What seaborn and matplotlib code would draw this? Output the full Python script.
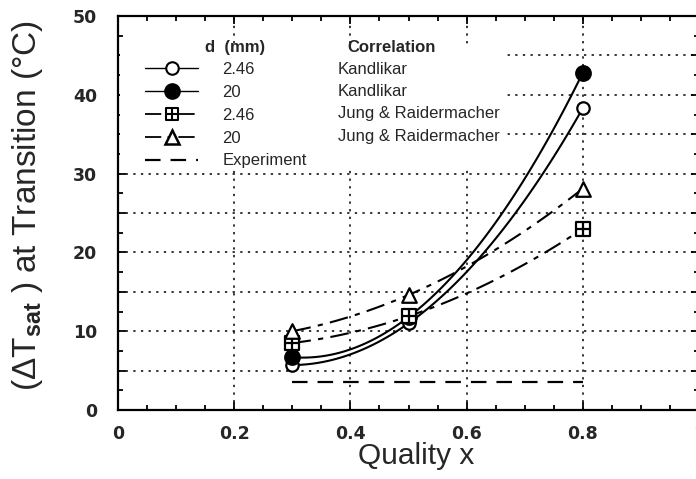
import numpy as np
import pandas as pd
import matplotlib
matplotlib.use("Agg")
import matplotlib.pyplot as plt
import seaborn as sns
from matplotlib.path import Path
from matplotlib.lines import Line2D
from matplotlib.patches import Rectangle
from matplotlib.ticker import MultipleLocator, FuncFormatter

# ---- data ----
quality = [0.3, 0.5, 0.8]
kand_246 = [5.7, 11.0, 38.3]
kand_20 = [6.7, 11.8, 42.8]
jung_246 = [8.5, 11.9, 23.0]
jung_20 = [10.0, 14.6, 28.1]
exp_x = [0.3, 0.8]
exp_y = [3.6, 3.6]

d_labels = ["2.46", "20", "2.46", "20", "Experiment"]
corr_labels = ["Kandlikar", "Kandlikar", "Jung & Raidermacher", "Jung & Raidermacher"]
x_ticks = [0, 0.2, 0.4, 0.6, 0.8, 1.0]
y_ticks = [0, 10, 20, 30, 40, 50]

sns.set_style("ticks")
plt.rcParams["font.family"] = ["Liberation Sans", "DejaVu Sans"]
plt.rcParams["mathtext.fontset"] = "custom"
plt.rcParams["mathtext.rm"] = "Liberation Sans"
plt.rcParams["mathtext.bf"] = "Liberation Sans:bold"
plt.rcParams["mathtext.it"] = "Liberation Sans:italic"

# square with a cross inside
sq_plus = Path(
    [(-1, -1), (1, -1), (1, 1), (-1, 1), (-1, -1), (0, -1), (0, 1), (-1, 0), (1, 0)],
    [Path.MOVETO, Path.LINETO, Path.LINETO, Path.LINETO, Path.CLOSEPOLY,
     Path.MOVETO, Path.LINETO, Path.MOVETO, Path.LINETO],
)

fig = plt.figure(figsize=(6.96, 4.79), dpi=100)
ax = fig.add_axes([118 / 696, (479 - 410) / 479, 581 / 696, 394 / 479])

dashdot = (0, (9, 3.5, 2.5, 3.5))
line_lw = 1.5

series = [
    (kand_246, "o", "white", 80, "-"),
    (kand_20, "o", "black", 110, "-"),
    (jung_246, sq_plus, "white", 90, dashdot),
    (jung_20, "^", "white", 110, dashdot),
]
for yv, mk, fc, s, ls in series:
    df = pd.DataFrame({"x": quality, "y": yv})
    sns.regplot(data=df, x="x", y="y", order=2, ci=None, truncate=True,
                marker=mk, color="black", ax=ax,
                scatter_kws=dict(facecolors=fc, edgecolors="black", s=s,
                                 linewidths=1.6, alpha=1, zorder=5),
                line_kws=dict(lw=line_lw, ls=ls, zorder=3))

exp_df = pd.DataFrame({"x": exp_x, "y": exp_y})
sns.lineplot(data=exp_df, x="x", y="y", ax=ax, color="black", lw=1.6,
             linestyle=(0, (7, 4.5)), zorder=3)

ax.set_xlim(0, 1.0)
ax.set_ylim(0, 50)
ax.xaxis.set_major_locator(MultipleLocator(0.2))
ax.xaxis.set_minor_locator(MultipleLocator(0.05))
ax.yaxis.set_major_locator(MultipleLocator(5))
ax.yaxis.set_minor_locator(MultipleLocator(2.5))


def xfmt(v, pos):
    v = round(v, 2)
    if v == 0:
        return "0"
    if v == 1:
        return "1"
    return f"{v:.1f}"


def yfmt(v, pos):
    v = round(v)
    return f"{v:d}" if v % 10 == 0 else ""


ax.xaxis.set_major_formatter(FuncFormatter(xfmt))
ax.yaxis.set_major_formatter(FuncFormatter(yfmt))
ax.tick_params(which="both", direction="in", top=True, right=True, width=1.3,
               color="black")
ax.tick_params(which="major", length=6)
ax.tick_params(which="minor", length=3.5)
ax.tick_params(axis="x", which="major", pad=11)
ax.tick_params(axis="y", which="major", pad=15)
for lab in ax.get_xticklabels() + ax.get_yticklabels():
    lab.set_fontfamily("DejaVu Sans")
    lab.set_fontweight("bold")
    lab.set_fontsize(12.5)

for sp in ax.spines.values():
    sp.set_linewidth(1.6)
    sp.set_color("black")

ax.set_axisbelow(True)
ax.grid(True, which="major", color="black", lw=1.1, ls=(0, (1.5, 3.5)))

ax.set_xlabel("Quality x", fontsize=21.5)
ax.set_ylabel("(ΔT$_{\\mathbf{sat}}$ ) at Transition (°C)", fontsize=24)
ax.xaxis.set_label_coords(0.513, -0.082)
ax.yaxis.set_label_coords(-0.125, 0.52)


def fx(px):
    return (px - 118) / 581


def fy(py):
    return (410 - py) / 394


# white area behind the legend
ax.add_patch(Rectangle((0.003, fy(168)), fx(504) - 0.003, fy(45) - fy(168),
                       transform=ax.transAxes, facecolor="white",
                       edgecolor="none", zorder=1.5))

handles = [
    Line2D([0], [0], color="black", lw=1.0, marker="o", mfc="white",
           mec="black", ms=9, mew=1.5),
    Line2D([0], [0], color="black", lw=1.0, marker="o", mfc="black",
           mec="black", ms=10.5, mew=1.5),
    Line2D([0], [0], color="black", lw=1.3, ls=dashdot, marker=sq_plus,
           mfc="white", mec="black", ms=9, mew=1.5),
    Line2D([0], [0], color="black", lw=1.3, ls=dashdot, marker="^",
           mfc="white", mec="black", ms=10, mew=1.8),
    Line2D([0], [0], color="black", lw=1.6, ls=(0, (7, 4.5))),
]
leg = ax.legend(handles, d_labels, loc="upper left",
                bbox_to_anchor=(fx(145), fy(62)), frameon=False,
                borderpad=0, borderaxespad=0, handlelength=3.2,
                handletextpad=1.45, labelspacing=0.47,
                prop={"family": "Liberation Sans", "size": 12})
leg.set_zorder(6)

ax.text(fx(205), fy(47), "d  (mm)", transform=ax.transAxes, fontsize=12,
        fontweight="bold", va="center", ha="left", zorder=6)
ax.text(fx(347), fy(47), "Correlation", transform=ax.transAxes,
        fontsize=12, fontweight="bold", va="center", ha="left", zorder=6)
for lab, py in zip(corr_labels, [69, 91, 113, 136]):
    ax.text(fx(338), fy(py), lab, transform=ax.transAxes, fontsize=12,
            va="center", ha="left", zorder=6)

fig.savefig("out.png", dpi=100)
